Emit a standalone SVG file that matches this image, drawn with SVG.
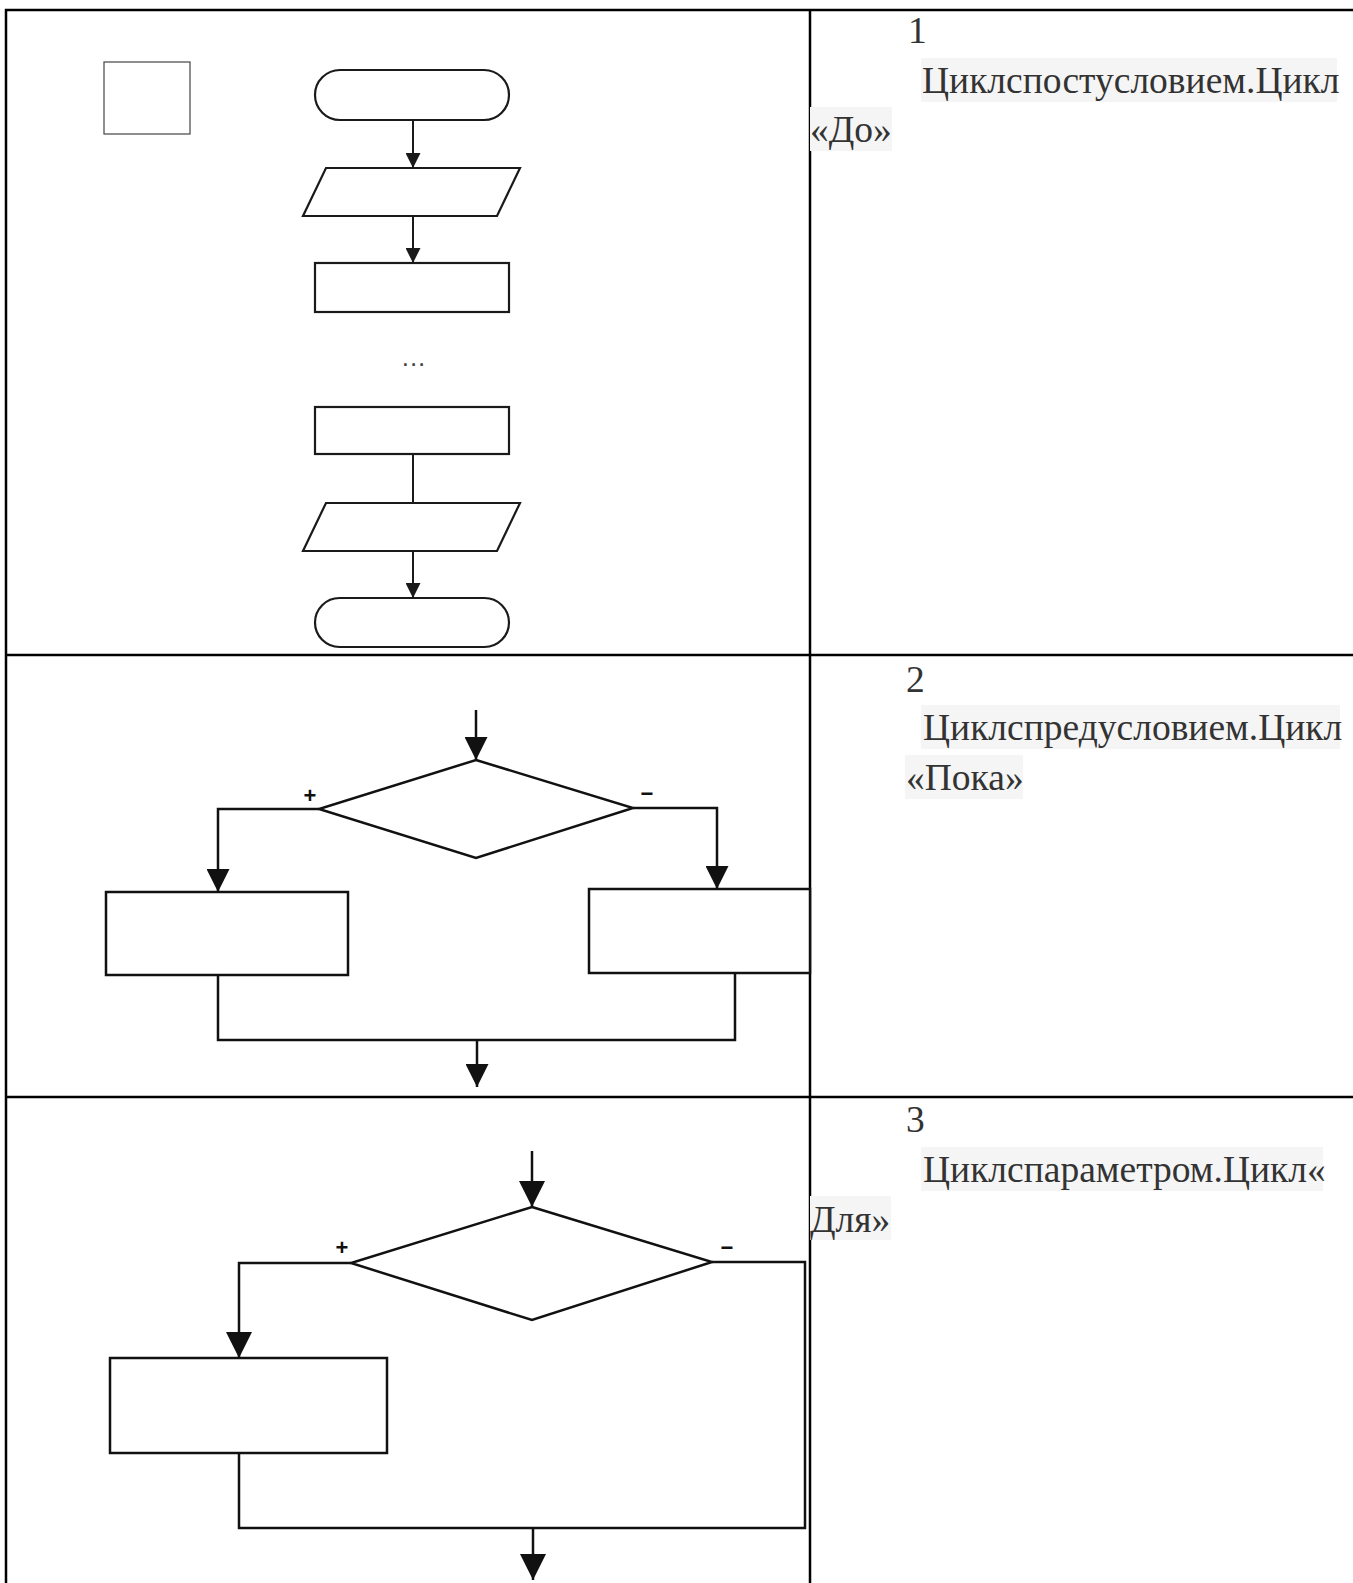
<svg xmlns="http://www.w3.org/2000/svg" width="1353" height="1583" viewBox="0 0 1353 1583">
<style>
.tbl{stroke:#000;stroke-width:2.5;fill:none}
.f1{fill:#fff;stroke:#1a1a1a;stroke-width:2.2}
.c1{fill:none;stroke:#1a1a1a;stroke-width:2}
.f2{fill:#fff;stroke:#111;stroke-width:2.5}
.c2{fill:none;stroke:#111;stroke-width:2.5}
.txt{font-family:"Liberation Serif","Times New Roman",serif;font-size:37.5px;fill:#333}
.hl{fill:#f5f5f5}
.sign{font-family:"Liberation Sans",Arial,sans-serif;font-size:22px;font-weight:bold;fill:#111;text-anchor:middle}
</style>
<defs>
<marker id="aS" viewBox="0 0 10 10" refX="10" refY="5" markerUnits="userSpaceOnUse" markerWidth="17" markerHeight="15" orient="auto"><path d="M0,0 L10,5 L0,10 z" fill="#1a1a1a"/></marker>
<marker id="aM" viewBox="0 0 10 10" refX="10" refY="5" markerUnits="userSpaceOnUse" markerWidth="23" markerHeight="23" orient="auto"><path d="M0,0 L10,5 L0,10 z" fill="#111"/></marker>
<marker id="aL" viewBox="0 0 10 10" refX="10" refY="5" markerUnits="userSpaceOnUse" markerWidth="26" markerHeight="27" orient="auto"><path d="M0,0 L10,5 L0,10 z" fill="#111"/></marker>
</defs>
<rect width="1353" height="1583" fill="#fff"/>

<g id="table">
<path class="tbl" d="M6,1583 V10 H1353 M6,655 H1353 M6,1097 H1353 M810,10 V1583"/>
</g>

<g id="texts">
<text class="txt" x="908" y="43">1</text>
<rect class="hl" x="921" y="58" width="416" height="44"/>
<text class="txt" x="922" y="93">Циклспостусловием.Цикл</text>
<rect class="hl" x="810" y="107" width="82" height="44"/>
<text class="txt" x="810" y="142">«До»</text>

<text class="txt" x="906" y="692">2</text>
<rect class="hl" x="921" y="705" width="419" height="44"/>
<text class="txt" x="923" y="740">Циклспредусловием.Цикл</text>
<rect class="hl" x="905" y="755" width="118" height="44"/>
<text class="txt" x="906" y="790">«Пока»</text>

<text class="txt" x="906" y="1132">3</text>
<rect class="hl" x="921" y="1147" width="402" height="44"/>
<text class="txt" x="923" y="1182">Циклспараметром.Цикл«</text>
<rect class="hl" x="810" y="1196" width="81" height="44"/>
<text class="txt" x="810" y="1232">Для»</text>
</g>

<g id="d1-square"><rect x="104" y="62" width="86" height="72" fill="#fff" stroke="#444" stroke-width="1.2"/></g>
<g id="d1-start"><rect class="f1" x="315" y="70" width="194" height="50" rx="25"/></g>
<g id="d1-input"><polygon class="f1" points="326,168 520,168 497,216 303,216"/></g>
<g id="d1-proc1"><rect class="f1" x="315" y="263" width="194" height="49"/></g>
<g id="d1-dots"><text x="414" y="366" text-anchor="middle" font-family="Liberation Sans,Arial,sans-serif" font-size="26" letter-spacing="1" fill="#444">...</text></g>
<g id="d1-proc2"><rect class="f1" x="315" y="407" width="194" height="47"/></g>
<g id="d1-output"><polygon class="f1" points="326,503 520,503 497,551 303,551"/></g>
<g id="d1-end"><rect class="f1" x="315" y="598" width="194" height="49" rx="24.5"/></g>

<g id="d2-cond"><polygon class="f2" points="476,760 633,808 476,858 319,809"/><text class="sign" x="310" y="803">+</text><text class="sign" x="647" y="801">−</text></g>
<g id="d2-left"><rect class="f2" x="106" y="892" width="242" height="83"/></g>
<g id="d2-right"><rect class="f2" x="589" y="889" width="221" height="84"/></g>

<g id="d3-cond"><polygon class="f2" points="532,1207 712,1262 532,1320 351,1263"/><text class="sign" x="342" y="1255">+</text><text class="sign" x="727" y="1255">−</text></g>
<g id="d3-body"><rect class="f2" x="110" y="1358" width="277" height="95"/></g>

<g id="connectors">
<path class="c1" d="M413,120 V168" marker-end="url(#aS)"/>
<path class="c1" d="M413,216 V263" marker-end="url(#aS)"/>
<path class="c1" d="M413,454 V503"/>
<path class="c1" d="M413,551 V598" marker-end="url(#aS)"/>

<path class="c2" d="M476,710 V760" marker-end="url(#aM)"/>
<path class="c2" d="M319,809 H218 V892" marker-end="url(#aM)"/>
<path class="c2" d="M633,808 H717 V889" marker-end="url(#aM)"/>
<path class="c2" d="M218,975 V1040 H735 V973"/>
<path class="c2" d="M477,1040 V1087" marker-end="url(#aM)"/>

<path class="c2" d="M532,1151 V1207" marker-end="url(#aL)"/>
<path class="c2" d="M351,1263 H239 V1358" marker-end="url(#aL)"/>
<path class="c2" d="M239,1453 V1528 H805 V1262 H712"/>
<path class="c2" d="M533,1528 V1580" marker-end="url(#aL)"/>
</g>
</svg>
